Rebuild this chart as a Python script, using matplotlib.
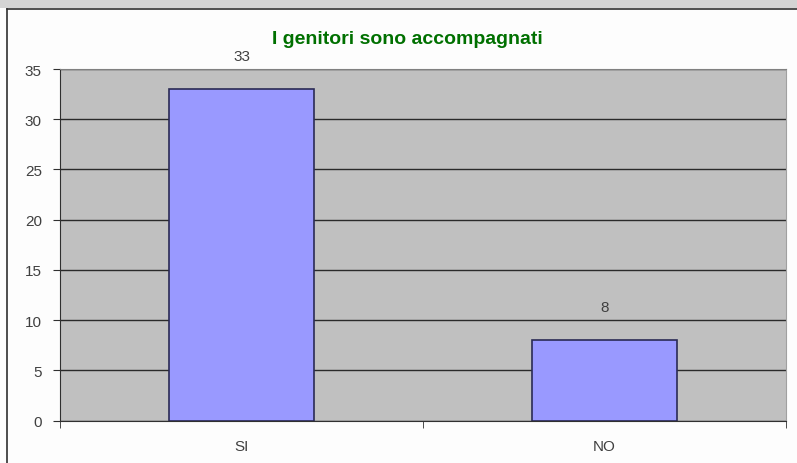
import matplotlib.pyplot as plt
from matplotlib.patches import Rectangle

# -----------------------------
# Data
# -----------------------------
categories = ["SI", "NO"]
values = [33, 8]
y_ticks = [0, 5, 10, 15, 20, 25, 30, 35]
title = "I genitori sono accompagnati"

plt.rcParams['font.family'] = ['Liberation Sans', 'DejaVu Sans']

fig = plt.figure(figsize=(7.97, 4.64), dpi=100)
fig.patch.set_facecolor("#fdfdfd")

# light strip on top + outer chart border
fig.patches.append(Rectangle((0, 1 - 9 / 464), 1, 9 / 464, transform=fig.transFigure,
                             facecolor="#d4d4d4", edgecolor="none", zorder=0))
fig.lines.append(plt.Line2D([7 / 797, 1], [1 - 10 / 464] * 2, transform=fig.transFigure,
                            color="#303030", lw=1.2))
fig.lines.append(plt.Line2D([7 / 797] * 2, [0, 1 - 10 / 464], transform=fig.transFigure,
                            color="#303030", lw=1.2))

ax = fig.add_axes([60 / 797, 42.5 / 464, 726 / 797, 351.5 / 464])
ax.set_facecolor("#c0c0c0")

x = range(len(categories))
ax.bar(x, values, width=0.4, color="#9999ff", edgecolor="#2a2a55", linewidth=1.2, zorder=3)

for i, v in enumerate(values):
    ax.annotate(str(v), (i, v), xytext=(0, 24), textcoords="offset points",
                ha="center", va="center", fontsize=11, color="#404040")

ax.set_xlim(-0.5, 1.5)
ax.set_ylim(0, 35)
ax.set_yticks(y_ticks)
ax.set_xticks(list(x))
ax.set_xticklabels(categories)
ax.set_xticks([-0.5, 0.5, 1.5], minor=True)
ax.tick_params(axis="x", which="major", length=0, pad=13, labelsize=11, labelcolor="#404040")
ax.tick_params(axis="x", which="minor", length=5, color="#303030")
ax.tick_params(axis="y", length=5, color="#303030", labelsize=11, labelcolor="#404040", pad=8)

ax.yaxis.grid(True, color="#2a2a2a", linewidth=1, zorder=1)
ax.set_axisbelow(True)

ax.spines["left"].set_color("#303030")
ax.spines["bottom"].set_color("#303030")
ax.spines["top"].set_color("#808080")
ax.spines["right"].set_color("#a0a0a0")

fig.text(407 / 797, 1 - 39 / 464, title, ha="center", va="center",
         fontsize=14, fontweight="bold", color="#007000")

fig.savefig("out.png", dpi=100)
